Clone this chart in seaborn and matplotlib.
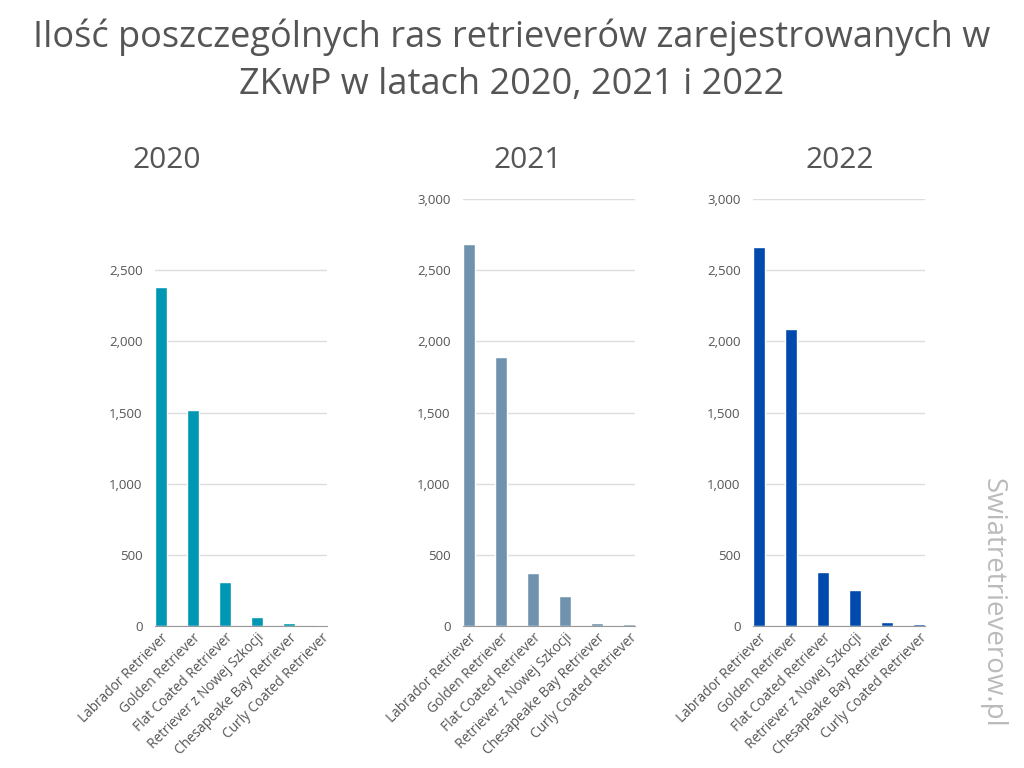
import seaborn as sns
import matplotlib.pyplot as plt
import pandas as pd
from matplotlib.ticker import FuncFormatter

# dane
breeds = ['Labrador Retriever', 'Golden Retriever', 'Flat Coated Retriever',
          'Retriever z Nowej Szkocji', 'Chesapeake Bay Retriever', 'Curly Coated Retriever']
years = ['2020', '2021', '2022']
counts_2020 = [2385, 1515, 312, 62, 19, 7]
counts_2021 = [2684, 1890, 370, 209, 19, 12]
counts_2022 = [2666, 2089, 382, 253, 30, 14]
colors = ['#0097b2', '#7093ad', '#004aad']
yticks_2020 = [0, 500, 1000, 1500, 2000, 2500]
yticks_other = [0, 500, 1000, 1500, 2000, 2500, 3000]

df = pd.DataFrame({
    'breed': breeds * 3,
    'year': [y for y in years for _ in breeds],
    'count': counts_2020 + counts_2021 + counts_2022,
})

sns.set_style('white')
plt.rcParams['font.family'] = ['Open Sans', 'DejaVu Sans']

fig = plt.figure(figsize=(10.24, 7.68), dpi=100)
lefts = [155, 463, 753]
title_x = [167, 528, 840]
bar_w = 0.37

for i, year in enumerate(years):
    ax = fig.add_axes([lefts[i] / 1024, 1 - 626 / 768, 172 / 1024, 427 / 768])
    sub = df[df['year'] == year]
    sns.barplot(data=sub, x='breed', y='count', color=colors[i], width=bar_w,
                saturation=1, ax=ax)
    ax.set_ylim(0, 3000)
    ax.set_xlim(-bar_w / 2, len(breeds) - 1 + bar_w / 2)
    ax.set_yticks(yticks_2020 if year == '2020' else yticks_other)
    ax.yaxis.set_major_formatter(FuncFormatter(lambda v, p: f'{int(v):,}'))
    ax.grid(axis='y', color='#dddddd', linewidth=1)
    ax.set_axisbelow(True)
    for s in ['top', 'right', 'left']:
        ax.spines[s].set_visible(False)
    ax.spines['bottom'].set_color('#999999')
    ax.tick_params(axis='y', length=0, pad=9, labelsize=9.5, labelcolor='#555555')
    ax.tick_params(axis='x', length=0, pad=3, labelsize=9.8, labelcolor='#555555')
    ax.set_xticks(range(len(breeds)))
    ax.set_xticklabels(breeds, rotation=45, ha='right', rotation_mode='anchor')
    ax.set_xlabel('')
    ax.set_ylabel('')
    fig.text(title_x[i] / 1024, 1 - 160 / 768, year, ha='center', va='center',
             fontsize=21.5, color='#555555')

fig.text(0.5, 1 - 37 / 768, 'Ilość poszczególnych ras retrieverów zarejestrowanych w',
         ha='center', va='center', fontsize=26, color='#555555')
fig.text(0.5, 1 - 85 / 768, 'ZKwP w latach 2020, 2021 i 2022',
         ha='center', va='center', fontsize=26, color='#555555')
fig.text(993 / 1024, 1 - 603 / 768, 'Swiatretrieverow.pl', rotation=270,
         ha='center', va='center', fontsize=20, color='#bbbbbb')

plt.savefig('out.png', dpi=100)
